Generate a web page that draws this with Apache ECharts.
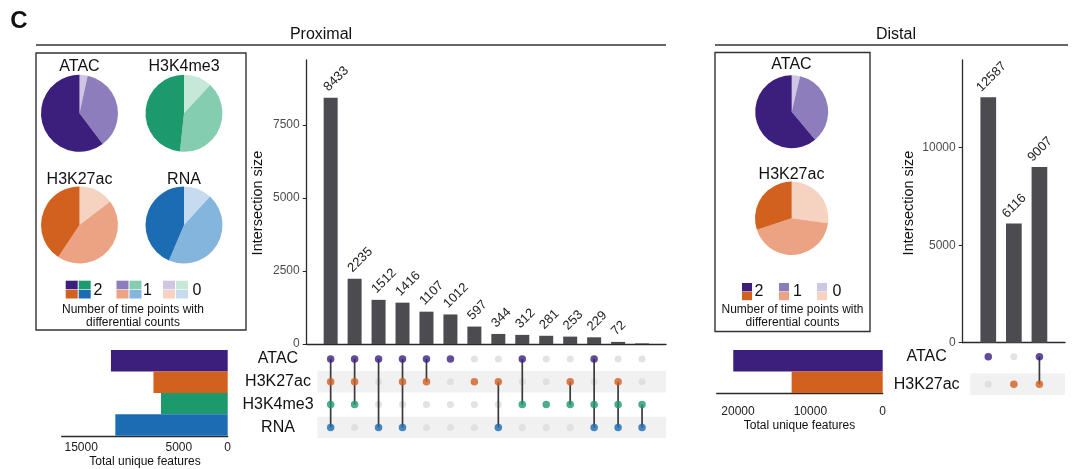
<!DOCTYPE html>
<html><head><meta charset="utf-8">
<script src="https://cdn.jsdelivr.net/npm/echarts@6/dist/echarts.min.js"></script>
<style>html,body{margin:0;padding:0;background:#fff}#c{width:1072px;height:469px}</style>
</head><body><div id="c"></div>
<script>
const FONT = "'Liberation Sans', Arial, Helvetica, sans-serif";

// ---------------- data ----------------
const proxSets = ['ATAC', 'H3K27ac', 'H3K4me3', 'RNA'];
const proxSetSizes = [11950, 7600, 6830, 11500];
const proxSizeTicks = [0, 5000, 15000];
const proxCombos = [
  ['ATAC', 'H3K27ac', 'H3K4me3', 'RNA'],
  ['ATAC', 'H3K27ac', 'H3K4me3'],
  ['ATAC', 'RNA'],
  ['ATAC', 'H3K27ac', 'RNA'],
  ['ATAC', 'H3K27ac'],
  ['ATAC'],
  ['H3K27ac'],
  ['H3K27ac', 'RNA'],
  ['ATAC', 'H3K4me3'],
  ['H3K4me3'],
  ['H3K27ac', 'H3K4me3'],
  ['ATAC', 'H3K4me3', 'RNA'],
  ['H3K27ac', 'H3K4me3', 'RNA'],
  ['H3K4me3', 'RNA']
];
const proxCounts = [8433, 2235, 1512, 1416, 1107, 1012, 597, 344, 312, 281, 253, 229, 72, 20];
const proxCountLabelShown = [1,1,1,1,1,1,1,1,1,1,1,1,1,0];
const proxCountTicks = [0, 2500, 5000, 7500];

const distSets = ['ATAC', 'H3K27ac'];
const distSetSizes = [20660, 12590];
const distSizeTicks = [0, 10000, 20000];
const distCombos = [['ATAC'], ['H3K27ac'], ['ATAC', 'H3K27ac']];
const distCounts = [12587, 6116, 9007];
const distCountTicks = [0, 5000, 10000];

// pie shares (%) for number of time points with differential counts: levels 0, 1, 2
const pieLevels = ['0', '1', '2'];
const proxPieATAC = [3.4, 36.3, 60.3];
const proxPieH3K4me3 = [11.9, 39.8, 48.3];
const proxPieH3K27ac = [14.6, 44.7, 40.7];
const proxPieRNA = [11.8, 44.6, 43.6];
const distPieATAC = [3.7, 35.2, 61.1];
const distPieH3K27ac = [27.2, 42.7, 30.1];

// ---------------- styles ----------------
const palettes = {
  ATAC:    ['#cec6e3', '#8e7dbd', '#3c1f7d'],
  H3K4me3: ['#c6e8d9', '#84cdb0', '#1c9a6e'],
  H3K27ac: ['#f6d3c1', '#eca383', '#d2601f'],
  RNA:     ['#c6dbef', '#84b5dc', '#1b6cb2']
};
const setColor = s => palettes[s][2];
const BAR = '#4b4b50';
const AX = '#2a2a2a';
const TICKLAB = '#4d4d4d';
const plain = v => String(Math.round(v));

const chart = echarts.init(document.getElementById('c'), null, {renderer: 'canvas'});

function valueX(grid, min, max, show) {
  return {gridIndex: grid, type: 'value', min, max, show: !!show,
    axisLine: {show: !!show, onZero: false, lineStyle: {color: AX, width: 1.3}},
    axisTick: {show: false}, axisLabel: {show: false}, splitLine: {show: false}};
}
function countY(grid, max, ticks) {
  return {gridIndex: grid, type: 'value', min: 0, max,
    axisLine: {show: true, onZero: false, lineStyle: {color: AX, width: 1.3}},
    axisTick: {show: true, length: 4, lineStyle: {color: AX}, customValues: ticks},
    axisLabel: {customValues: ticks, formatter: plain, color: TICKLAB, fontSize: 12, fontFamily: FONT, margin: 7},
    splitLine: {show: false}};
}
function matrixY(grid, sets, margin) {
  return {gridIndex: grid, type: 'value', min: -0.5, max: sets.length - 0.5, inverse: true,
    axisLine: {show: false, onZero: false}, axisTick: {show: false}, splitLine: {show: false},
    axisLabel: {customValues: sets.map((s, i) => i), formatter: v => sets[Math.round(v)],
      align: 'center', margin, color: '#111', fontSize: 16, fontFamily: FONT}};
}
function sizeX(grid, max, ticks, margin) {
  return {gridIndex: grid, type: 'value', min: 0, max, inverse: true,
    axisLine: {show: true, onZero: false, lineStyle: {color: AX, width: 1.3}},
    axisTick: {show: false},
    axisLabel: {customValues: ticks, formatter: plain, color: '#222', fontSize: 12, fontFamily: FONT, margin},
    splitLine: {show: false}};
}
function sizeY(grid, sets) {
  return {gridIndex: grid, type: 'category', data: sets, inverse: true, show: false,
    axisLine: {show: false, onZero: false}, axisTick: {show: false}, axisLabel: {show: false}};
}

function matrixSeries(axisIdx, sets, combos, xmin, xmax, half) {
  const gray = [], colored = [], links = [];
  combos.forEach((c, col) => {
    const rows = [];
    sets.forEach((s, r) => {
      if (c.includes(s)) { colored.push({value: [col, r], itemStyle: {color: setColor(s)}}); rows.push(r); }
      else gray.push([col, r]);
    });
    if (rows.length > 1) links.push([col, Math.min(...rows), Math.max(...rows)]);
  });
  const stripes = sets.map((s, r) => r).filter(r => r % 2 === 1).map(r => [xmin, r, xmax]);
  return [
    {type: 'custom', xAxisIndex: axisIdx, yAxisIndex: axisIdx, silent: true, clip: false, z: 1,
      data: stripes, encode: {x: [0, 2], y: 1},
      renderItem: (p, api) => {
        const a = api.coord([api.value(0), api.value(1) - half]);
        const b = api.coord([api.value(2), api.value(1) + half]);
        return {type: 'rect', shape: {x: Math.min(a[0], b[0]), y: Math.min(a[1], b[1]),
          width: Math.abs(b[0] - a[0]), height: Math.abs(b[1] - a[1])}, style: {fill: '#f1f1f1'}};
      }},
    {type: 'scatter', xAxisIndex: axisIdx, yAxisIndex: axisIdx, silent: true, z: 2,
      symbolSize: 7, itemStyle: {color: '#dcdcdc'}, data: gray},
    {type: 'custom', xAxisIndex: axisIdx, yAxisIndex: axisIdx, silent: true, clip: false, z: 3,
      data: links, encode: {x: 0, y: [1, 2]},
      renderItem: (p, api) => {
        const a = api.coord([api.value(0), api.value(1)]);
        const b = api.coord([api.value(0), api.value(2)]);
        return {type: 'line', shape: {x1: a[0], y1: a[1], x2: b[0], y2: b[1]},
          style: {stroke: '#3a3a3a', lineWidth: 1.7}};
      }},
    {type: 'scatter', xAxisIndex: axisIdx, yAxisIndex: axisIdx, silent: true, z: 4,
      symbolSize: 7.5, data: colored}
  ];
}

function countBars(axisIdx, counts, width, pos, shown) {
  return {type: 'bar', xAxisIndex: axisIdx, yAxisIndex: axisIdx, barWidth: width, silent: true,
    itemStyle: {color: BAR},
    label: {show: true, position: pos, rotate: 45, align: 'left', verticalAlign: 'bottom',
      color: '#222', fontSize: 13, fontFamily: FONT, formatter: p => String(p.value[1])},
    data: counts.map((v, i) => ({value: [i, v], label: {show: !shown || !!shown[i]}}))};
}
function sizeBars(axisIdx, sets, sizes) {
  return {type: 'bar', xAxisIndex: axisIdx, yAxisIndex: axisIdx, barCategoryGap: '0%', silent: true,
    data: sizes.map((v, i) => ({value: v, itemStyle: {color: setColor(sets[i])}}))};
}
function pie(center, r, set, shares) {
  return {type: 'pie', center, radius: [0, r], startAngle: 90, clockwise: true, silent: true,
    label: {show: false}, labelLine: {show: false}, itemStyle: {borderWidth: 0},
    data: shares.map((v, i) => ({name: pieLevels[i], value: v, itemStyle: {color: palettes[set][i]}}))};
}

// ---------------- decorations ----------------
const T = (x, y, text, size, opts) => Object.assign({type: 'text', x, y,
  style: Object.assign({text, fontSize: size, fontFamily: FONT, fill: '#111', align: 'center', verticalAlign: 'middle'}, (opts && opts.style) || {})},
  opts && opts.rotation ? {rotation: opts.rotation} : {});
const R = (x, y, w, h, fill) => ({type: 'rect', shape: {x, y, width: w, height: h}, style: {fill}});
const L = (x1, y1, x2, y2) => ({type: 'line', shape: {x1, y1, x2, y2}, style: {stroke: '#333', lineWidth: 1.5}});

function legend4(x0, y0, lvl) {
  const w = 12, h = 8.6;
  return [R(x0, y0, w, h, palettes.ATAC[lvl]), R(x0 + w + 1, y0, w, h, palettes.H3K4me3[lvl]),
          R(x0, y0 + h + 0.6, w, h, palettes.H3K27ac[lvl]), R(x0 + w + 1, y0 + h + 0.6, w, h, palettes.RNA[lvl])];
}
function legend2(x0, y0, lvl) {
  const w = 10, h = 8.4;
  return [R(x0, y0, w, h, palettes.ATAC[lvl]), R(x0, y0 + h + 0.4, w, h, palettes.H3K27ac[lvl])];
}

const graphic = [
  T(19, 21, 'C', 24, {style: {fontWeight: 'bold'}}),
  T(321, 35, 'Proximal', 16),
  L(36, 45, 666, 45),
  T(896, 35, 'Distal', 16),
  L(715, 45, 1068, 45),
  {type: 'rect', shape: {x: 36, y: 53, width: 210, height: 277}, style: {fill: 'none', stroke: '#333', lineWidth: 1.4}},
  {type: 'rect', shape: {x: 715, y: 52.5, width: 155, height: 279}, style: {fill: 'none', stroke: '#333', lineWidth: 1.4}},
  T(79.5, 67, 'ATAC', 16), T(184, 67, 'H3K4me3', 16),
  T(79.5, 180, 'H3K27ac', 16), T(184, 180, 'RNA', 16),
  T(791.5, 65, 'ATAC', 16), T(791.5, 175, 'H3K27ac', 16),
  ...legend4(65.7, 280.7, 2), T(93.5, 290.5, '2', 16, {style: {align: 'left'}}),
  ...legend4(116.5, 280.7, 1), T(143, 290.5, '1', 16, {style: {align: 'left'}}),
  ...legend4(163, 280.7, 0), T(192.5, 290.5, '0', 16, {style: {align: 'left'}}),
  T(133, 310, 'Number of time points with', 12),
  T(133, 322.5, 'differential counts', 12),
  ...legend2(742, 283, 2), T(754.5, 291.5, '2', 16, {style: {align: 'left'}}),
  ...legend2(779, 283, 1), T(793, 291.5, '1', 16, {style: {align: 'left'}}),
  ...legend2(817, 283, 0), T(832.5, 291.5, '0', 16, {style: {align: 'left'}}),
  T(792.5, 309.5, 'Number of time points with', 12),
  T(792.5, 322.5, 'differential counts', 12),
  T(258, 203, 'Intersection size', 14.5, {rotation: Math.PI / 2}),
  T(908.5, 203, 'Intersection size', 14.5, {rotation: Math.PI / 2}),
  T(145, 462, 'Total unique features', 12),
  T(799.5, 425.7, 'Total unique features', 12)
];

const option = {
  animation: false,
  backgroundColor: '#fff',
  textStyle: {fontFamily: FONT},
  grid: [
    {left: 306.7, top: 60, width: 359.3, height: 284},
    {left: 306.7, top: 347.6, width: 359.3, height: 91.2},
    {left: 61.7, top: 350, width: 166, height: 85.8},
    {left: 962.7, top: 60, width: 102.3, height: 282.7},
    {left: 962.7, top: 342.9, width: 102.3, height: 55.2},
    {left: 716.7, top: 350, width: 166, height: 43}
  ],
  xAxis: [
    valueX(0, -1, proxCounts.length, true),
    valueX(1, -1, proxCounts.length, false),
    sizeX(2, 16990, proxSizeTicks, 6),
    valueX(3, -1, distCounts.length, true),
    valueX(4, -1, distCounts.length, false),
    sizeX(5, 22950, distSizeTicks, 13)
  ],
  yAxis: [
    countY(0, 9726, proxCountTicks),
    matrixY(1, proxSets, 28.7),
    sizeY(2, proxSets),
    countY(3, 14500, distCountTicks),
    matrixY(4, distSets, 36),
    sizeY(5, distSets)
  ],
  series: [
    countBars(0, proxCounts, 14, [7, -4], proxCountLabelShown),
    ...matrixSeries(1, proxSets, proxCombos, -0.55, proxCounts.length, 0.47),
    sizeBars(2, proxSets, proxSetSizes),
    countBars(3, distCounts, 15.7, [3, -3], null),
    ...matrixSeries(4, distSets, distCombos, -0.7, distCounts.length, 0.39),
    sizeBars(5, distSets, distSetSizes),
    pie([79.5, 113.3], 38.5, 'ATAC', proxPieATAC),
    pie([184, 113.3], 38.5, 'H3K4me3', proxPieH3K4me3),
    pie([79.5, 225], 38.5, 'H3K27ac', proxPieH3K27ac),
    pie([184, 225], 38.5, 'RNA', proxPieRNA),
    pie([791.7, 111.7], 36.5, 'ATAC', distPieATAC),
    pie([791.7, 218.3], 36.7, 'H3K27ac', distPieH3K27ac)
  ],
  graphic
};
chart.setOption(option);
</script>
</body></html>
